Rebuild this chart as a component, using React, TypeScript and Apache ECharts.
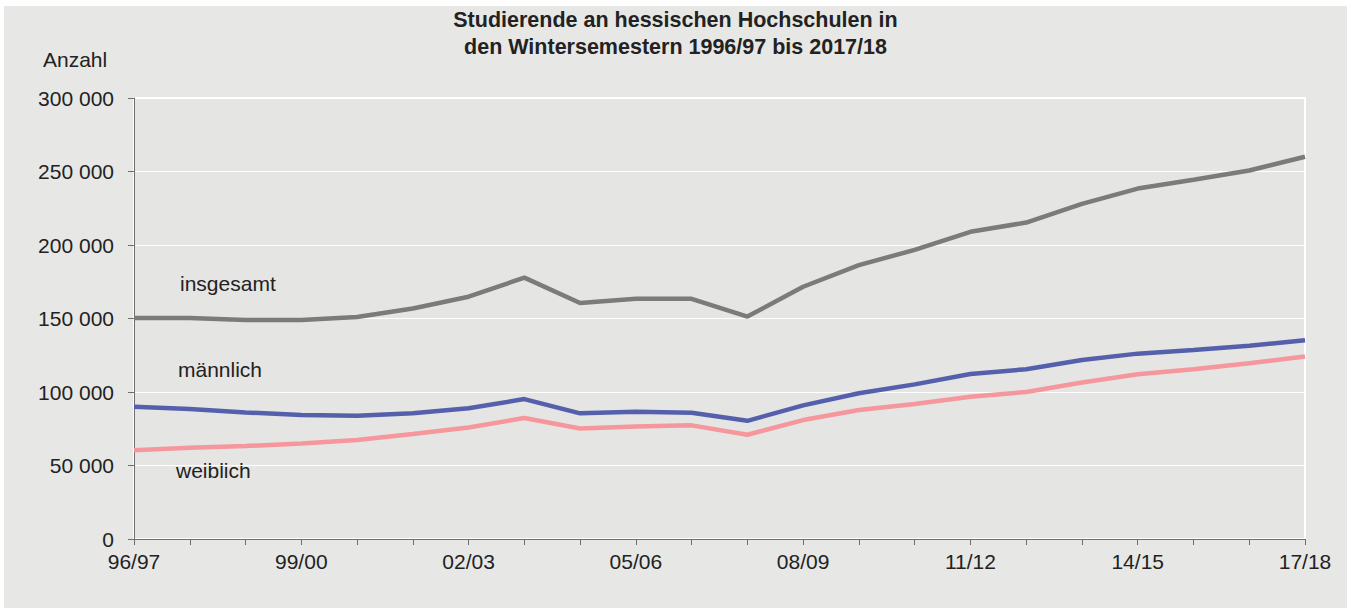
import React, { useEffect, useRef } from "react";
import * as echarts from "echarts";

const categories = ["96/97","97/98","98/99","99/00","00/01","01/02","02/03","03/04","04/05","05/06","06/07","07/08","08/09","09/10","10/11","11/12","12/13","13/14","14/15","15/16","16/17","17/18"];
const insgesamt = [150400, 150400, 148900, 148900, 151000, 156800, 164800, 177800, 160500, 163400, 163400, 151300, 171600, 186300, 196700, 209000, 215300, 228000, 238400, 244400, 250700, 260000];
const maennlich = [90000, 88400, 86100, 84300, 83900, 85500, 88900, 95200, 85500, 86600, 85900, 80400, 90900, 99100, 105200, 112300, 115500, 121800, 126100, 128600, 131400, 135200];
const weiblich = [60400, 62000, 63200, 65000, 67300, 71400, 75900, 82300, 75200, 76600, 77300, 70900, 80900, 87700, 91800, 96800, 100000, 106400, 112100, 115500, 119500, 124100];

const FONT = "'Liberation Sans', Arial, sans-serif";
const TXT = "#222222";

function fmt(v: number): string {
  return String(v).replace(/\B(?=(\d{3})+(?!\d))/g, " ");
}

export default function App() {
  const ref = useRef<HTMLDivElement>(null);
  useEffect(() => {
    document.body.style.margin = "0";
    const chart = echarts.init(ref.current!, undefined, { renderer: "svg" });
    const lineSeries = (name: string, data: number[], color: string) => ({
      name,
      type: "line",
      data,
      symbol: "none",
      smooth: false,
      lineStyle: { color, width: 4.5 },
      itemStyle: { color },
    });
    chart.setOption({
      animation: false,
      backgroundColor: "#e7e8e6",
      textStyle: { fontFamily: FONT },
      title: {
        text: "Studierende an hessischen Hochschulen in\nden Wintersemestern 1996/97 bis 2017/18",
        left: "center",
        top: 0,
        padding: 0,
        textStyle: {
          fontFamily: FONT,
          fontSize: 21.5,
          fontWeight: "bold",
          color: TXT,
          lineHeight: 27,
        },
      },
      grid: {
        left: 130,
        right: 42,
        top: 92,
        bottom: 69,
        show: true,
        backgroundColor: "#e5e5e3",
        borderColor: "#ffffff",
        borderWidth: 2,
        containLabel: false,
      },
      xAxis: {
        type: "category",
        data: categories,
        boundaryGap: false,
        axisLine: { show: true, lineStyle: { color: "#6e6e6e", width: 1 } },
        axisTick: { show: true, interval: 0, length: 6, lineStyle: { color: "#6e6e6e" } },
        axisLabel: { interval: 2, margin: 12, fontSize: 21, color: TXT, fontFamily: FONT },
        splitLine: { show: false },
      },
      yAxis: {
        type: "value",
        min: 0,
        max: 300000,
        interval: 50000,
        axisLine: { show: true, lineStyle: { color: "#6e6e6e", width: 1 } },
        axisTick: { show: true, length: 6, lineStyle: { color: "#6e6e6e" } },
        axisLabel: { margin: 20, fontSize: 21, color: TXT, fontFamily: FONT, formatter: (v: number) => fmt(v) },
        splitLine: { show: true, lineStyle: { color: "#ffffff", width: 1 } },
      },
      series: [
        lineSeries("insgesamt", insgesamt, "#7b7b7b"),
        lineSeries("männlich", maennlich, "#5560ad"),
        lineSeries("weiblich", weiblich, "#f5979c"),
      ],
      graphic: [
        { type: "text", left: 39, top: 43, style: { text: "Anzahl", fontSize: 21, fill: TXT, fontFamily: FONT } },
        { type: "text", x: 176, y: 277, style: { text: "insgesamt", fontSize: 21, fill: TXT, fontFamily: FONT, verticalAlign: "middle" } },
        { type: "text", x: 174, y: 363, style: { text: "männlich", fontSize: 21, fill: TXT, fontFamily: FONT, verticalAlign: "middle" } },
        { type: "text", x: 172, y: 464, style: { text: "weiblich", fontSize: 21, fill: TXT, fontFamily: FONT, verticalAlign: "middle" } },
      ],
    });
    return () => chart.dispose();
  }, []);
  return (
    <div style={{ width: 1347, height: 608, background: "#ffffff", position: "relative" }}>
      <div ref={ref} style={{ position: "absolute", left: 4, top: 6, width: 1343, height: 602 }} />
    </div>
  );
}
